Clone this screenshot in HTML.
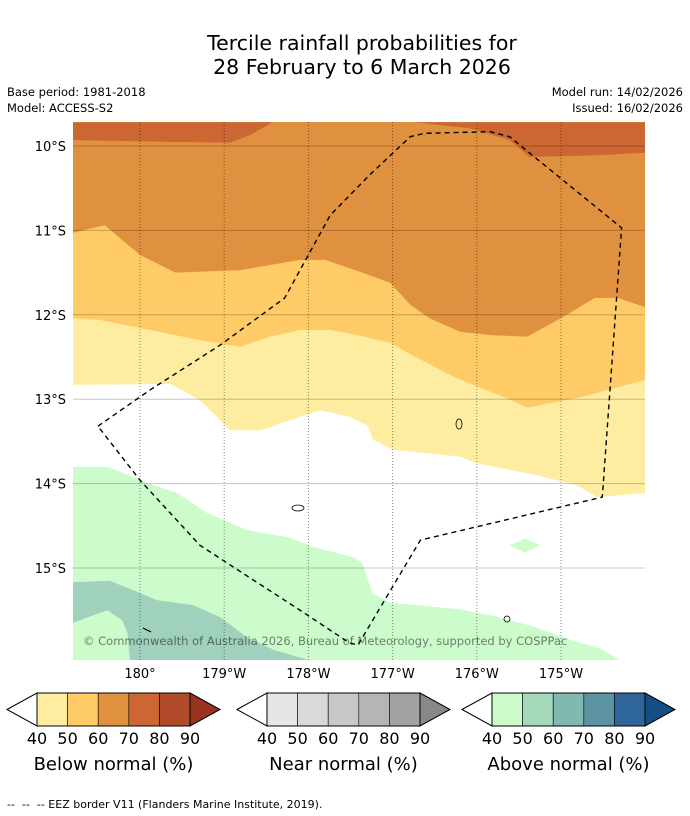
<!DOCTYPE html>
<html><head><meta charset="utf-8">
<style>
body{margin:0;background:#fff;font-family:"DejaVu Sans","Liberation Sans",sans-serif;}
#wrap{position:relative;width:690px;height:816px;overflow:hidden;}
</style></head>
<body>
<div id="wrap">
<svg id="svg" width="690" height="816" xmlns="http://www.w3.org/2000/svg">
<text x="362" y="50" text-anchor="middle" font-size="20.5" fill="#000">Tercile rainfall probabilities for</text>
<text x="362" y="74" text-anchor="middle" font-size="20.5" fill="#000">28 February to 6 March 2026</text>
<text x="7" y="96" font-size="11.5">Base period: 1981-2018</text>
<text x="7" y="112" font-size="11.5">Model: ACCESS-S2</text>
<text x="683" y="96" font-size="11.5" text-anchor="end">Model run: 14/02/2026</text>
<text x="683" y="112" font-size="11.5" text-anchor="end">Issued: 16/02/2026</text>
<defs><clipPath id="mapclip"><rect x="73" y="122" width="572" height="538"/></clipPath></defs>
<g id="map" clip-path="url(#mapclip)"></g>
<g id="axes"></g>
<g id="legend"></g>
<text x="7" y="808" font-size="11" fill="#000" xml:space="preserve">--  --  -- EEZ border V11 (Flanders Marine Institute, 2019).</text>
</svg>
</div>
<script>
const latTicks=[10,11,12,13,14,15];
const latLabels=["10°S","11°S","12°S","13°S","14°S","15°S"];
const lonTicks=[180,181,182,183,184,185];
const lonLabels=["180°","179°W","178°W","177°W","176°W","175°W"];
const darkLeftLon=[179.20,181.57,181.31,181.07,180.24,179.20];
const darkLeftLat=[9.72,9.72,9.87,9.96,9.95,9.93];
const darkRightLon=[183.27,186.00,186.00,185.43,184.63,184.39,183.92];
const darkRightLat=[9.72,9.72,10.08,10.11,10.13,9.93,9.79];
const b50Lon=[179.20,179.58,180.00,180.42,181.19,181.90,182.20,182.61,182.97,183.21,183.44,183.80,184.16,184.60,185.07,185.40,185.67,186.00];
const b50Lat=[11.03,10.94,11.29,11.50,11.47,11.35,11.35,11.49,11.62,11.88,12.04,12.20,12.24,12.26,12.00,11.80,11.80,11.91];
const b40Lon=[179.20,179.52,180.12,180.71,181.19,181.54,181.90,182.26,182.49,182.97,183.29,183.76,184.36,184.60,185.26,186.00];
const b40Lat=[12.04,12.06,12.18,12.30,12.38,12.26,12.18,12.18,12.22,12.33,12.51,12.75,12.99,13.10,12.97,12.77];
const bWLon=[179.20,180.36,180.71,181.07,181.43,181.78,182.14,182.49,182.70,182.77,183.00,183.80,184.00,184.71,185.19,185.43,186.00];
const bWLat=[12.83,12.82,13.01,13.37,13.37,13.25,13.13,13.21,13.31,13.48,13.60,13.68,13.76,13.90,14.02,14.16,14.11];
const bGLon=[179.20,179.61,180.08,180.44,180.80,181.27,181.78,182.05,182.53,182.64,182.76,182.97,183.80,184.16,184.63,185.11,185.46,185.70];
const bGLat=[13.80,13.80,13.99,14.11,14.35,14.55,14.64,14.75,14.87,14.94,15.30,15.41,15.49,15.56,15.68,15.85,15.95,16.09];
const g2Lon=[179.20,179.64,179.96,180.20,180.63,180.95,181.27,181.59,182.00,179.88,179.85,179.79,179.61,179.20];
const g2Lat=[15.17,15.15,15.28,15.38,15.44,15.58,15.82,15.97,16.09,16.09,15.77,15.62,15.50,15.65];
const blobLon=[184.39,184.57,184.75,184.57];
const blobLat=[14.73,14.65,14.73,14.82];
const eezLon=[179.50,180.12,180.95,181.72,181.90,182.26,182.73,183.21,183.38,184.16,184.39,185.72,185.49,183.33,182.59,182.49,181.90,181.25,180.71,180.00,179.50];
const eezLat=[13.32,12.89,12.36,11.80,11.47,10.82,10.34,9.89,9.85,9.83,9.89,10.97,14.16,14.67,15.91,15.89,15.50,15.08,14.73,13.96,13.32];
const belowColors=["#feeda0","#fecb66","#e0913f","#cc6633","#b04a28","#993320"];
const nearColors=["#e6e6e6","#d9d9d9","#c8c8c8","#b5b5b5","#a2a2a2","#888888"];
const aboveColors=["#ccfccc","#a5d9bb","#80b9b0","#5b93a0","#2f6699","#154f86"];
const cbTicks=["40","50","60","70","80","90"];

const NS="http://www.w3.org/2000/svg";
function X(lon){return 140+(lon-180)*84.2;}
function Y(lat){return 146+(lat-10)*84.4;}
function mk(tag,attrs,parent){const e=document.createElementNS(NS,tag);for(const k in attrs)e.setAttribute(k,attrs[k]);parent.appendChild(e);return e;}
function pts(lons,lats,extra){let a=lons.map((l,i)=>X(l).toFixed(1)+","+Y(lats[i]).toFixed(1));if(extra)a=a.concat(extra.map(p=>X(p[0]).toFixed(1)+","+Y(p[1]).toFixed(1)));return a.join(" ");}
const map=document.getElementById('map');
const bg=mk('rect',{x:73,y:122,width:572,height:538,fill:"#e0913f"},map);


const bottom=[[186,16.09],[179.2,16.09]];
let p;
p=mk('polygon',{points:pts(darkLeftLon,darkLeftLat),fill:"#cc6633"},map);


p=mk('polygon',{points:pts(darkRightLon,darkRightLat),fill:"#cc6633"},map);


p=mk('polygon',{points:pts(b50Lon,b50Lat,bottom),fill:"#fecb66"},map);


p=mk('polygon',{points:pts(b40Lon,b40Lat,bottom),fill:"#feeda0"},map);


p=mk('polygon',{points:pts(bWLon,bWLat,bottom),fill:"#ffffff"},map);


p=mk('polygon',{points:pts(bGLon,bGLat,[[179.2,16.09]]),fill:"#ccfccc"},map);


p=mk('polygon',{points:pts(g2Lon,g2Lat),fill:"#9fd1bd"},map);


p=mk('polygon',{points:pts(blobLon,blobLat),fill:"#ccfccc"},map);


latTicks.forEach(t=>{const l=mk('line',{x1:73,x2:645,y1:Y(t),y2:Y(t),stroke:"#000","stroke-opacity":0.22,"stroke-width":1},map);

});
lonTicks.forEach(t=>{const l=mk('line',{x1:X(t),x2:X(t),y1:122,y2:660,stroke:"#000","stroke-opacity":0.45,"stroke-width":1,"stroke-dasharray":"1,2"},map);

});
[[459,424,3,5],[298,508,6,3],[507,619,3,3]].forEach(a=>{const e=mk('ellipse',{cx:a[0],cy:a[1],rx:a[2],ry:a[3],fill:"none",stroke:"#000","stroke-width":0.8},map);

});
const il=mk('line',{x1:143,y1:628,x2:151,y2:632,stroke:"#000","stroke-width":1.2},map);


const eez=mk('polyline',{points:pts(eezLon,eezLat),fill:"none",stroke:"#000","stroke-width":1.4,"stroke-dasharray":"5,4"},map);


const cp=mk('text',{x:83,y:645,"font-size":11.5,fill:"#000","fill-opacity":0.5},map);
cp.textContent="© Commonwealth of Australia 2026, Bureau of Meteorology, supported by COSPPac";


const axes=document.getElementById('axes');
latTicks.forEach((t,i)=>{const e=mk('text',{x:66,y:Y(t)+5,"font-size":13,"text-anchor":"end"},axes);e.textContent=latLabels[i];

});
lonTicks.forEach((t,i)=>{const e=mk('text',{x:X(t),y:678,"font-size":13,"text-anchor":"middle"},axes);e.textContent=lonLabels[i];

});
const leg=document.getElementById('legend');
function bar(x0,cols,title,name){
  const g=mk('g',{},leg);
  
  
  const w=30.6,y0=693,h=33,bx=x0+30;
  mk('polygon',{points:`${x0},${y0+h/2} ${bx},${y0} ${bx},${y0+h}`,fill:"#fff",stroke:"#000","stroke-width":1},g);
  cols.slice(0,5).forEach((c,i)=>{mk('rect',{x:bx+i*w,y:y0,width:w,height:h,fill:c,stroke:"#000","stroke-width":0.6},g);});
  const ex=bx+5*w;
  mk('polygon',{points:`${ex},${y0} ${ex+30},${y0+h/2} ${ex},${y0+h}`,fill:cols[5],stroke:"#000","stroke-width":1},g);
  mk('rect',{x:bx,y:y0,width:5*w,height:h,fill:"none",stroke:"#000","stroke-width":1},g);
  cbTicks.forEach((t,i)=>{const e=mk('text',{x:bx+i*w,y:744,"font-size":16,"text-anchor":"middle"},g);e.textContent=t;});
  const tt=mk('text',{x:bx+2.5*w,y:770,"font-size":18,"text-anchor":"middle"},g);tt.textContent=title;
}
bar(7,belowColors,"Below normal (%)","below-normal-colorbar");
bar(237,nearColors,"Near normal (%)","near-normal-colorbar");
bar(462,aboveColors,"Above normal (%)","above-normal-colorbar");
</script>
</body></html>
